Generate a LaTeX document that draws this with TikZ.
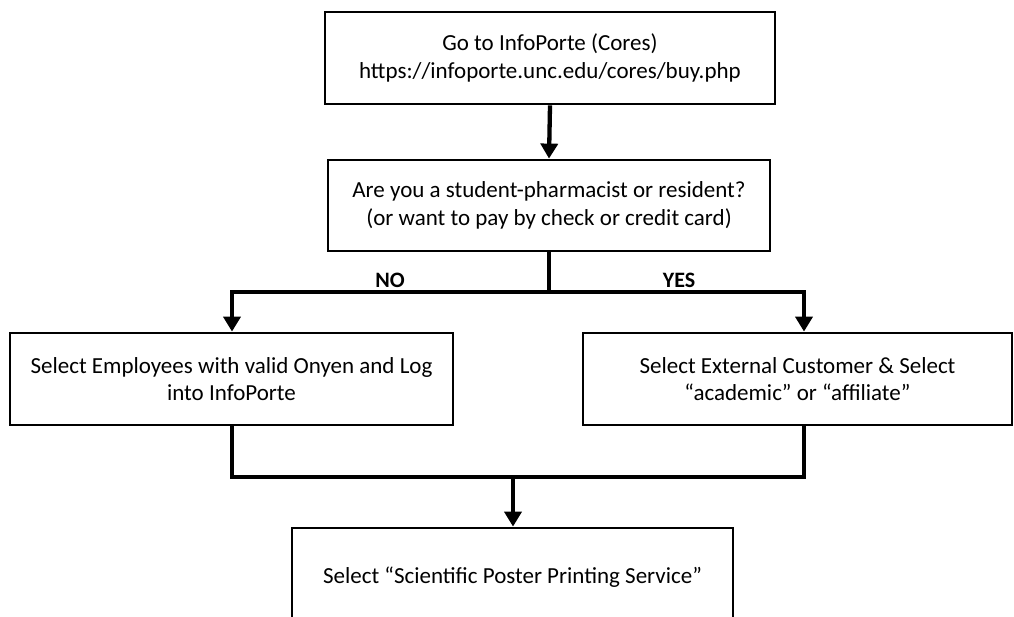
\documentclass[tikz,border=0pt]{standalone}
\usepackage{fontspec}
\setmainfont{Carlito}
\usetikzlibrary{arrows.meta}
\begin{document}
\begin{tikzpicture}[x=1pt,y=-1pt,
  box/.style={draw=black,line width=2.8pt,fill=white,inner sep=0pt,align=center,
    font=\fontsize{23}{27.5}\selectfont},
  conn/.style={line width=4.3pt},
  arr/.style={conn,-{Triangle[width=17pt,length=15pt]}},
  lbl/.style={font=\fontsize{22}{24}\selectfont\bfseries,inner sep=0pt}]
\useasboundingbox (0,0) rectangle (1014,617);
\clip (0,0) rectangle (1014,617);
\node[box,minimum width=450pt,minimum height=92pt] (top) at (550,58)
  {Go to InfoPorte (Cores)\\https://infoporte.unc.edu/cores/buy.php};
\node[box,minimum width=442pt,minimum height=91pt] (q) at (549,205.5)
  {Are you a student-pharmacist or resident?\\(or want to pay by check or credit card)};
\node[box,minimum width=443pt,minimum height=92pt] (emp) at (231.5,379)
  {Select Employees with valid Onyen and Log\\into InfoPorte};
\node[box,minimum width=429pt,minimum height=92pt] (ext) at (797.5,379)
  {Select External Customer \& Select\\“academic” or “affiliate”};
\node[box,minimum width=441pt,minimum height=98pt] (sel) at (512.5,577)
  {Select “Scientific Poster Printing Service”};
\coordinate (split) at (549,292);
\coordinate (splitL) at (232,292);
\coordinate (splitR) at (804,292);
\coordinate (mergeL) at (232,477);
\coordinate (mergeR) at (804,477);
\coordinate (merge) at (513,477);
\draw[arr] (top.south) -- (q.north);
\draw[conn,line cap=rect] (q.south) -- (split);
\draw[conn,line cap=rect] (splitL) -- (splitR);
\draw[arr] (splitL) -- (splitL |- emp.north);
\draw[arr] (splitR) -- (splitR |- ext.north);
\draw[conn,line cap=rect] (emp.south -| mergeL) -- (mergeL) -- (mergeR) -- (ext.south -| mergeR);
\draw[arr] (merge) -- (sel.north -| merge);
\node[lbl] (no) at (390,280) {NO};
\node[lbl] (yes) at (679,280) {YES};
\end{tikzpicture}
\end{document}
